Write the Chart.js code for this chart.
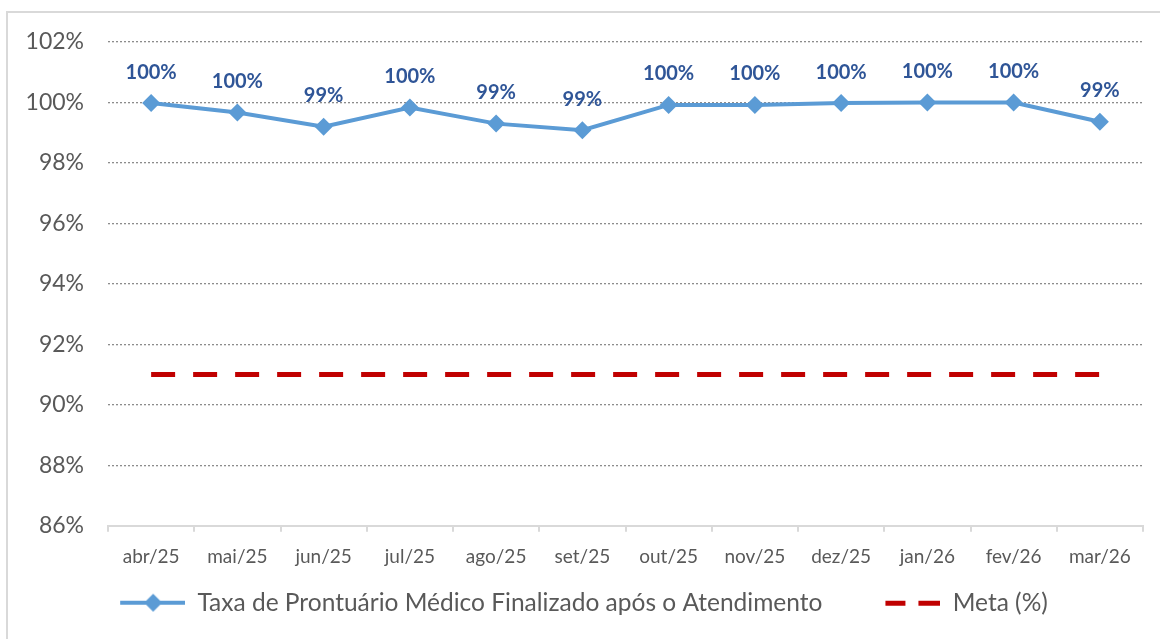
<!DOCTYPE html>
<html>
<head>
<meta charset="utf-8">
<script src="https://cdn.jsdelivr.net/npm/chart.js@4.4.1/dist/chart.umd.min.js"></script>
<style>
html, body { margin: 0; padding: 0; background: #fff; }
#wrap { position: relative; width: 1160px; height: 639px; overflow: hidden; }
#frame { position: absolute; left: 6px; top: 11px; width: 1200px; height: 700px;
         border-left: 2px solid #d9d9d9; border-top: 2px solid #d9d9d9; }
canvas { position: absolute; left: 0; top: 0; }
</style>
</head>
<body>
<div id="wrap">
  <div id="frame"></div>
  <canvas id="myChart" width="1160" height="639"></canvas>
</div>
<script>
const months = ['abr/25', 'mai/25', 'jun/25', 'jul/25', 'ago/25', 'set/25',
                'out/25', 'nov/25', 'dez/25', 'jan/26', 'fev/26', 'mar/26'];
const taxa = [99.98, 99.67, 99.2, 99.83, 99.3, 99.08, 99.92, 99.92, 99.98, 100, 100, 99.36];
const meta = [91, 91, 91, 91, 91, 91, 91, 91, 91, 91, 91, 91];
const yTicks = [86, 88, 90, 92, 94, 96, 98, 100, 102];

const FONT = 'Lato, "Open Sans", sans-serif';
const BLUE = '#5B9BD5';
const RED = '#C00000';
const GREY = '#595959';
const ICON_W = 110;

// legend icons drawn on small canvases (right aligned)
function lineIcon() {
    const c = document.createElement('canvas');
    c.width = ICON_W; c.height = 22;
    const g = c.getContext('2d');
    const x0 = ICON_W - 65;
    g.strokeStyle = BLUE; g.lineWidth = 4;
    g.beginPath(); g.moveTo(x0, 11); g.lineTo(ICON_W, 11); g.stroke();
    g.fillStyle = BLUE;
    g.beginPath(); g.moveTo(x0 + 33, 2); g.lineTo(x0 + 42, 11); g.lineTo(x0 + 33, 20); g.lineTo(x0 + 24, 11); g.closePath(); g.fill();
    return c;
}
function dashIcon() {
    const c = document.createElement('canvas');
    c.width = ICON_W; c.height = 22;
    const g = c.getContext('2d');
    const x0 = ICON_W - 55;
    g.fillStyle = RED;
    g.fillRect(x0, 9, 20, 5);
    g.fillRect(x0 + 33, 9, 22, 5);
    return c;
}
const icons = [lineIcon(), dashIcon()];

// value labels above the first series
const valueLabels = {
    id: 'valueLabels',
    afterLayout(chart) {
        // nudge legend to sit like the original
        chart.legend.left -= 10;
        chart.legend.right -= 10;
    },
    afterDatasetsDraw(chart) {
        const ctx = chart.ctx;
        const pts = chart.getDatasetMeta(0).data;
        ctx.save();
        ctx.font = 'bold 20px ' + FONT;
        ctx.fillStyle = '#2F5597';
        ctx.textAlign = 'center';
        ctx.textBaseline = 'middle';
        pts.forEach((p, i) => {
            ctx.fillText(Math.round(taxa[i]) + '%', p.x, p.y - 31);
        });
        ctx.restore();
    }
};

let ctx = document.getElementById('myChart').getContext('2d');
var myChart = new Chart(ctx, {         //eslint-disable-line
    type: 'line',
    data: {
        labels: months,
        datasets: [{
            label: 'Taxa de Prontuário Médico Finalizado após o Atendimento',
            data: taxa,
            borderColor: BLUE,
            backgroundColor: BLUE,
            borderWidth: 4,
            pointStyle: 'rectRot',
            pointRadius: 9,
            pointBorderWidth: 0,
            pointBackgroundColor: BLUE,
            tension: 0
        }, {
            label: 'Meta (%)',
            data: meta,
            borderColor: RED,
            backgroundColor: RED,
            borderWidth: 5,
            borderDash: [24, 18],
            borderCapStyle: 'butt',
            pointRadius: 0
        }]
    },
    options: {
        responsive: false,
        animation: false,
        layout: { padding: { left: 0, right: 17, top: 42, bottom: 14 } },
        plugins: {
            tooltip: { enabled: false },
            legend: {
                position: 'bottom',
                labels: {
                    usePointStyle: true,
                    pointStyleWidth: ICON_W,
                    padding: 8,
                    color: GREY,
                    font: { family: FONT, size: 24.5 },
                    generateLabels(chart) {
                        const items = Chart.defaults.plugins.legend.labels.generateLabels(chart);
                        items.forEach((it, i) => { it.pointStyle = icons[i]; });
                        return items;
                    }
                }
            }
        },
        scales: {
            x: {
                offset: true,
                grid: {
                    offset: true,
                    drawOnChartArea: false,
                    drawTicks: true,
                    tickLength: 6,
                    color: '#d9d9d9',
                    lineWidth: 2
                },
                border: { color: '#d9d9d9', width: 2 },
                ticks: { color: GREY, padding: 14, font: { family: FONT, size: 19 } }
            },
            y: {
                min: yTicks[0],
                max: yTicks[yTicks.length - 1],
                afterFit(scale) { scale.width = 108; },
                afterBuildTicks(scale) { scale.ticks = yTicks.map(v => ({ value: v })); },
                grid: {
                    drawTicks: false,
                    color: (c) => (c.tick && c.tick.value === yTicks[0]) ? 'rgba(0,0,0,0)' : '#8c8c8c',
                    lineWidth: 1.3
                },
                border: { display: false, dash: [2, 2] },
                ticks: {
                    color: GREY,
                    padding: 24,
                    font: { family: FONT, size: 23 },
                    callback: (v) => v + '%'
                }
            }
        }
    },
    plugins: [valueLabels]
});
</script>
</body>
</html>
